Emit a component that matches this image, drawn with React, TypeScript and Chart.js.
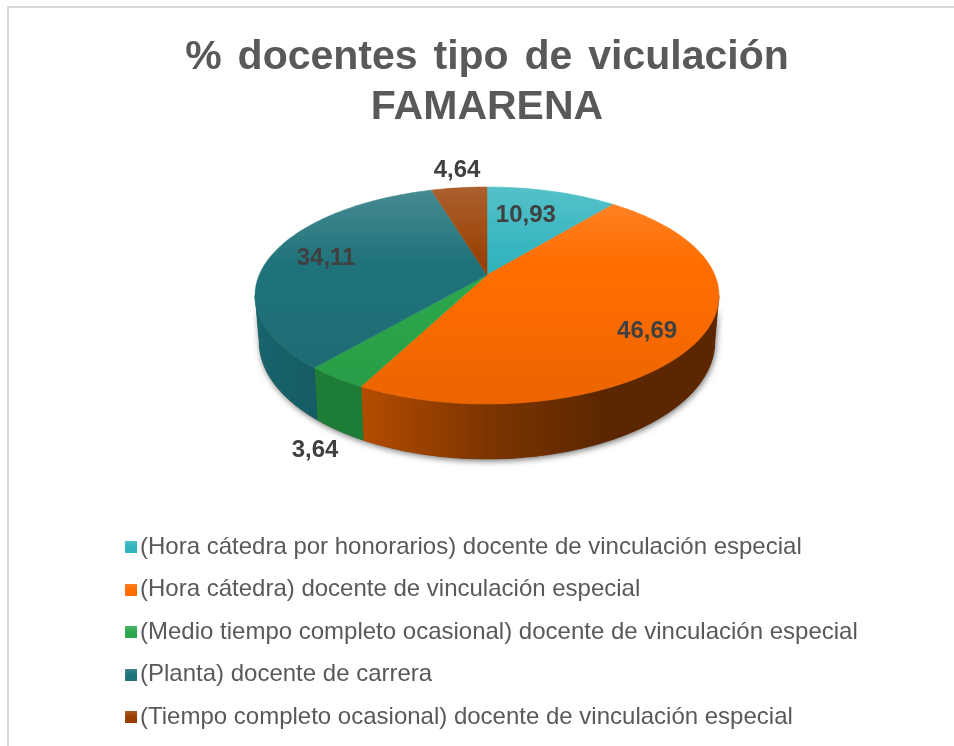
import React, { useEffect, useRef } from "react";
import { Chart, registerables } from "chart.js";

Chart.register(...registerables);

const categories = [
  "(Hora cátedra por honorarios) docente de vinculación especial",
  "(Hora cátedra) docente de vinculación especial",
  "(Medio tiempo completo ocasional) docente de vinculación especial",
  "(Planta) docente de carrera",
  "(Tiempo completo ocasional) docente de vinculación especial",
];
const values = [10.93, 46.69, 3.64, 34.11, 4.64];
const topColors = ["#2fb3bd", "#ff6d00", "#2ca84c", "#1f727a", "#993e00"];
const titleLines = ["% docentes tipo de viculación", "FAMARENA"];
const labelRadius = [0.671, 0.802, 1.395, 0.748, 1.249];
const labelAngleShift = [-3.1, 3.9, -9.7, 1.1, 0.9];

// Perspective view of the pie's disc
const CX = 487, CY = 275, A = 227.8, B = 104.6, K = 0.189, DEPTH = 44.6, FLOOR_SHRINK = 0.982;
const TANGENT = Math.acos(-K);

function project(theta: number, r = 1) {
  const u = r * Math.sin(theta), w = r * Math.cos(theta);
  const d = 1 + K * w;
  return { x: CX + (A * u) / d, y: CY - (B * w) / d, d };
}

function sweep(from: number, to: number) {
  const n = Math.max(2, Math.ceil(((to - from) * 180) / Math.PI));
  const out: number[] = [];
  for (let i = 0; i <= n; i++) out.push(from + ((to - from) * i) / n);
  return out;
}

function wallFill(ctx: CanvasRenderingContext2D, i: number) {
  const g = ctx.createLinearGradient(255, 0, 719, 0);
  if (i === 1) {
    g.addColorStop(0, "#b34c00");
    g.addColorStop(0.23, "#b34c00");
    g.addColorStop(0.5, "#7d3500");
    g.addColorStop(0.75, "#5c2700");
    g.addColorStop(1, "#5c2700");
  } else if (i === 2) {
    g.addColorStop(0, "#1d7c36");
    g.addColorStop(1, "#1d7c36");
  } else if (i === 3) {
    g.addColorStop(0, "#17656d");
    g.addColorStop(0.15, "#155a62");
    g.addColorStop(1, "#155a62");
  } else if (i === 0) {
    g.addColorStop(0, "#1d7c85");
    g.addColorStop(1, "#1d7c85");
  } else {
    g.addColorStop(0, "#6b2b00");
    g.addColorStop(1, "#6b2b00");
  }
  return g;
}

const pie3d = {
  id: "pie3d",
  afterLayout(chart: any) {
    const block = chart.titleBlock;
    if (block && !block.__spaced) {
      const draw = block.draw;
      block.draw = function (...args: any[]) {
        const ctx = chart.ctx;
        ctx.save();
        ctx.wordSpacing = "4.5px";
        draw.apply(this, args);
        ctx.restore();
      };
      block.__spaced = true;
    }
  },
  beforeDraw(chart: any) {
    const { ctx } = chart;
    ctx.save();
    ctx.fillStyle = "#ffffff";
    ctx.fillRect(0, 0, chart.width, chart.height);
    ctx.fillStyle = "#d9d9d9";
    ctx.fillRect(7, 6, chart.width - 7, 2);
    ctx.fillRect(7, 6, 2, chart.height - 6);
    ctx.restore();
  },
  beforeDatasetDraw(chart: any) {
    const { ctx } = chart;
    const arcs = chart.getDatasetMeta(0).data;
    const angles = arcs.map((a: any) => [a.startAngle + Math.PI / 2, a.endAngle + Math.PI / 2]);

    const wallPath = (from: number, to: number) => {
      const pts = sweep(from, to);
      ctx.beginPath();
      pts.forEach((t, j) => {
        const p = project(t);
        if (j === 0) ctx.moveTo(p.x, p.y);
        else ctx.lineTo(p.x, p.y);
      });
      pts.slice().reverse().forEach((t) => {
        const p = project(t);
        ctx.lineTo(CX + (p.x - CX) * FLOOR_SHRINK, p.y + DEPTH / p.d);
      });
      ctx.closePath();
    };

    // soft shadow under the cylinder
    ctx.save();
    ctx.shadowColor = "rgba(0,0,0,0.55)";
    ctx.shadowBlur = 6;
    ctx.shadowOffsetX = 1;
    ctx.shadowOffsetY = 2;
    ctx.fillStyle = "#5c2700";
    wallPath(TANGENT, Math.PI * 2 - TANGENT);
    ctx.fill();
    ctx.restore();

    // side walls
    angles.forEach(([s, e]: number[], i: number) => {
      const from = Math.max(s, TANGENT);
      const to = Math.min(e, Math.PI * 2 - TANGENT);
      if (to <= from) return;
      wallPath(from, to);
      const fill = wallFill(ctx, i);
      ctx.fillStyle = fill;
      ctx.strokeStyle = fill;
      ctx.lineWidth = 0.6;
      ctx.fill();
      ctx.stroke();
    });

    // top face
    angles.forEach(([s, e]: number[], i: number) => {
      ctx.beginPath();
      ctx.moveTo(CX, CY);
      sweep(s, e).forEach((t) => {
        const p = project(t);
        ctx.lineTo(p.x, p.y);
      });
      ctx.closePath();
      ctx.fillStyle = arcs[i].options.backgroundColor;
      ctx.strokeStyle = arcs[i].options.backgroundColor;
      ctx.lineWidth = 0.5;
      ctx.fill();
      ctx.stroke();
    });

    // sheen over the face
    const sheen = ctx.createLinearGradient(0, 187, 0, 404);
    sheen.addColorStop(0, "rgba(255,255,255,0.18)");
    sheen.addColorStop(0.36, "rgba(255,255,255,0)");
    sheen.addColorStop(0.42, "rgba(0,0,0,0)");
    sheen.addColorStop(1, "rgba(0,0,0,0.08)");
    ctx.beginPath();
    sweep(0, Math.PI * 2).forEach((t, j) => {
      const p = project(t);
      if (j === 0) ctx.moveTo(p.x, p.y);
      else ctx.lineTo(p.x, p.y);
    });
    ctx.closePath();
    ctx.fillStyle = sheen;
    ctx.fill();
    return false;
  },
  afterDatasetsDraw(chart: any) {
    const { ctx } = chart;
    const arcs = chart.getDatasetMeta(0).data;
    ctx.save();
    ctx.font = "bold 24px 'Liberation Sans'";
    ctx.fillStyle = "#404040";
    ctx.textAlign = "center";
    ctx.textBaseline = "middle";
    arcs.forEach((a: any, i: number) => {
      const mid = (a.startAngle + a.endAngle) / 2 + Math.PI / 2;
      const p = project(mid + (labelAngleShift[i] * Math.PI) / 180, labelRadius[i]);
      ctx.fillText(String(values[i]).replace(".", ","), p.x, p.y);
    });
    ctx.restore();
  },
};

function swatch(color: string) {
  const c = document.createElement("canvas");
  c.width = 18;
  c.height = 12;
  const x = c.getContext("2d")!;
  x.fillStyle = color;
  x.fillRect(6, 0, 12, 12);
  const g = x.createLinearGradient(0, 0, 0, 12);
  g.addColorStop(0, "rgba(255,255,255,0.15)");
  g.addColorStop(0.5, "rgba(255,255,255,0)");
  x.fillStyle = g;
  x.fillRect(6, 0, 12, 12);
  return c;
}

export default function App() {
  const ref = useRef<HTMLCanvasElement>(null);
  useEffect(() => {
    const chart = new Chart(ref.current!, {
      type: "pie",
      data: {
        labels: categories,
        datasets: [{ data: values, backgroundColor: topColors, borderWidth: 0 }],
      },
      options: {
        animation: false,
        responsive: false,
        layout: { padding: { left: 109.5, right: 89.5, top: 33, bottom: 7 } },
        plugins: {
          tooltip: { enabled: false },
          title: {
            display: true,
            text: titleLines,
            color: "#595959",
            font: { family: "'Liberation Sans'", size: 41, weight: "bold", lineHeight: 1.22 },
            padding: { top: 0, bottom: 10 },
          },
          legend: {
            position: "bottom",
            align: "start",
            labels: {
              color: "#595959",
              font: { family: "'Liberation Sans'", size: 24 },
              usePointStyle: true,
              boxWidth: 0.01,
              boxHeight: 12,
              padding: 18.5,
              generateLabels: () =>
                categories.map((text, index) => ({
                  text,
                  index,
                  fillStyle: topColors[index],
                  strokeStyle: topColors[index],
                  lineWidth: 0,
                  hidden: false,
                  fontColor: "#595959",
                  pointStyle: swatch(topColors[index]),
                })),
            },
          },
        },
      } as any,
      plugins: [pie3d as any],
    });
    return () => chart.destroy();
  }, []);
  return (
    <canvas
      ref={ref}
      width={954}
      height={746}
      style={{ position: "fixed", left: 0, top: 0, width: 954, height: 746, display: "block" }}
    />
  );
}
